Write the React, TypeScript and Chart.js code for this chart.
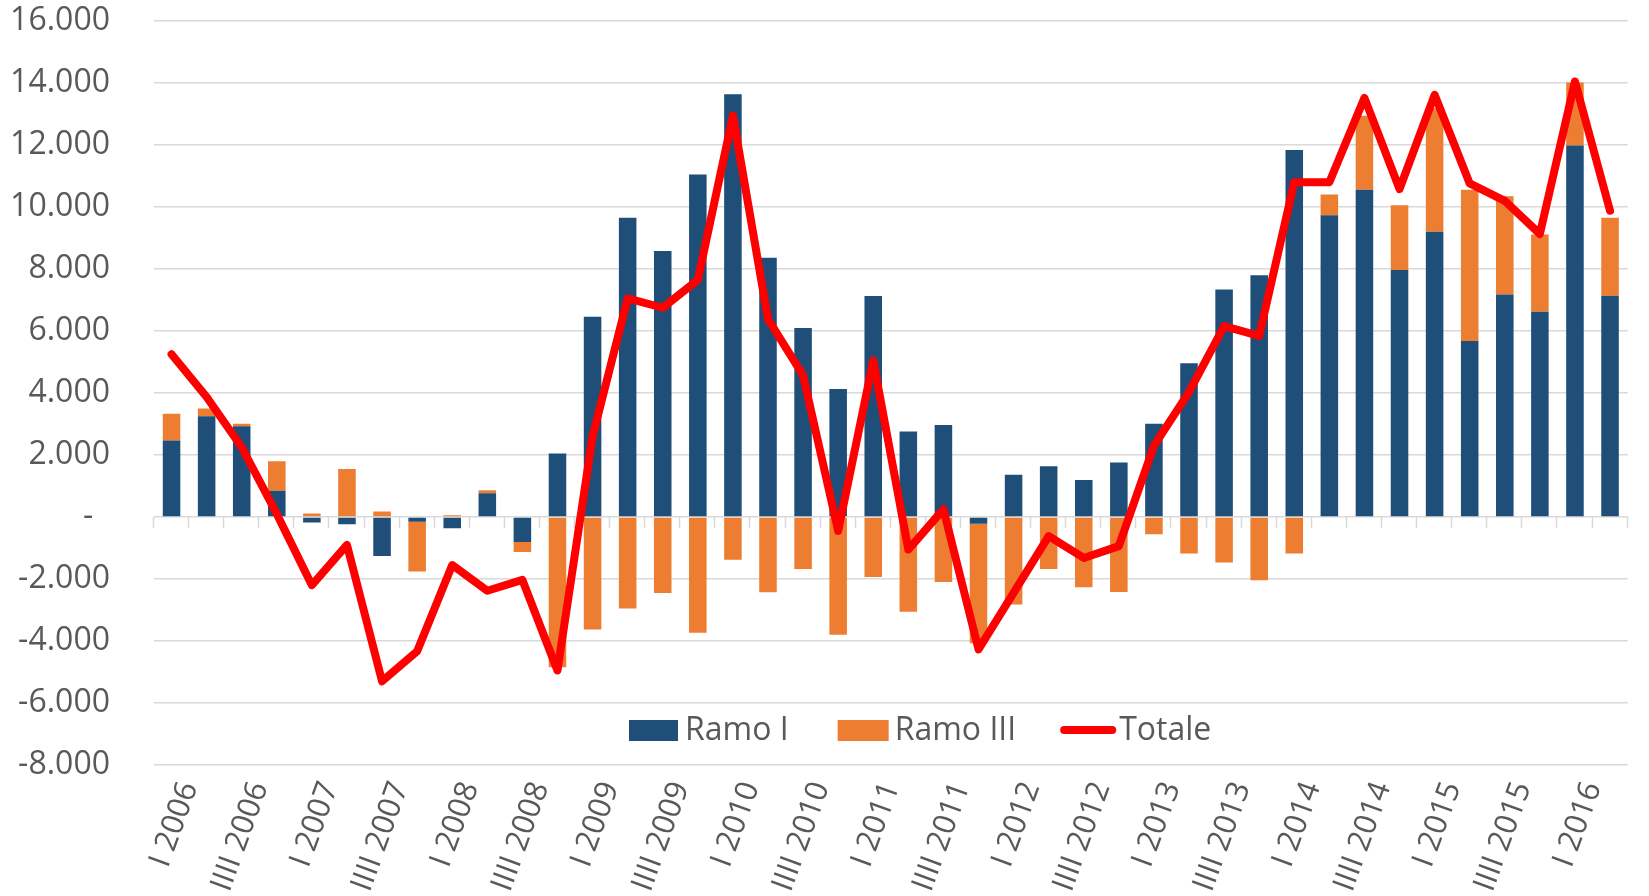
import React, { useEffect, useRef } from "react";
import { Chart, registerables } from "chart.js";

Chart.register(...registerables);

const categories = [
  "I 2006", "II 2006", "IIII 2006", "IV 2006",
  "I 2007", "II 2007", "IIII 2007", "IV 2007",
  "I 2008", "II 2008", "IIII 2008", "IV 2008",
  "I 2009", "II 2009", "IIII 2009", "IV 2009",
  "I 2010", "II 2010", "IIII 2010", "IV 2010",
  "I 2011", "II 2011", "IIII 2011", "IV 2011",
  "I 2012", "II 2012", "IIII 2012", "IV 2012",
  "I 2013", "II 2013", "IIII 2013", "IV 2013",
  "I 2014", "II 2014", "IIII 2014", "IV 2014",
  "I 2015", "II 2015", "IIII 2015", "IV 2015",
  "I 2016", "II 2016",
];

const ramoI = [
  2470, 3250, 2930, 850,
  -180, -230, -1260, -150,
  -360, 770, -810, 2050,
  6460, 9650, 8580, 11050,
  13640, 8360, 6100, 4130,
  7130, 2760, 2970, -215,
  1360, 1640, 1190, 1760,
  3005, 4960, 7340, 7800,
  11840, 9730, 10560, 7970,
  9200, 5680, 7180, 6620,
  11980, 7140,
];

const ramoIII = [
  860, 250, 80, 950,
  110, 1550, 180, -1610,
  60, 90, -320, -4850,
  -3630, -2950, -2450, -3730,
  -1380, -2430, -1680, -3800,
  -1935, -3060, -2100, -3860,
  -2820, -1680, -2270, -2420,
  -560, -1180, -1470, -2040,
  -1180, 670, 2380, 2090,
  3990, 4880, 3170, 2490,
  2040, 2510,
];

const totale = [
  5250, 3870, 2250, 100,
  -2200, -900, -5300, -4330,
  -1550, -2380, -2030, -4950,
  2600, 7050, 6750, 7650,
  12950, 6380, 4570, -450,
  5050, -1050, 250, -4270,
  -2450, -620, -1320, -940,
  2300, 4030, 6160, 5840,
  10800, 10800, 13520, 10580,
  13620, 10760, 10200, 9130,
  14050, 9880,
];

const yMin = -8000;
const yMax = 16000;
const yStep = 2000;

const BLUE = "#1F4E79";
const ORANGE = "#ED7D31";
const RED = "#FF0000";
const TEXT = "#595959";
const GRID = "#D9D9D9";
const FONT = "'Open Sans', 'Noto Sans', sans-serif";

function fmt(v: number): string {
  if (v === 0) return "-  ";
  const s = Math.abs(v).toString().replace(/\B(?=(\d{3})+(?!\d))/g, ".");
  return (v < 0 ? "-" : "") + s;
}

const zeroTicksPlugin = {
  id: "zeroTicks",
  beforeDatasetsDraw(chart: any) {
    const x = chart.scales.x;
    const y = chart.scales.y;
    const ctx = chart.ctx;
    const n = categories.length;
    const y0 = y.getPixelForValue(0);
    const w = (x.right - x.left) / n;
    ctx.save();
    ctx.strokeStyle = GRID;
    ctx.lineWidth = 1.5;
    for (let i = 0; i <= n; i++) {
      const px = Math.round(x.left + i * w) - 0.5;
      ctx.beginPath();
      ctx.moveTo(px, y0);
      ctx.lineTo(px, y0 + 11);
      ctx.stroke();
    }
    ctx.restore();
  },
};

const legendPlugin = {
  id: "customLegend",
  afterDraw(chart: any) {
    const ctx = chart.ctx;
    const area = chart.chartArea;
    const cy = area.bottom - 35;
    ctx.save();
    ctx.font = `32px ${FONT}`;
    ctx.textBaseline = "middle";
    ctx.fillStyle = TEXT;
    let x = 629;
    ctx.fillStyle = BLUE;
    ctx.fillRect(x, cy - 10, 49, 21);
    x += 56;
    ctx.fillStyle = TEXT;
    ctx.fillText("Ramo I", x, cy + 1);
    x += ctx.measureText("Ramo I").width + 49;
    ctx.fillStyle = ORANGE;
    ctx.fillRect(x, cy - 10, 51, 21);
    x += 57;
    ctx.fillStyle = TEXT;
    ctx.fillText("Ramo III", x, cy + 1);
    x += ctx.measureText("Ramo III").width + 44;
    ctx.strokeStyle = RED;
    ctx.lineWidth = 8;
    ctx.lineCap = "round";
    ctx.beginPath();
    ctx.moveTo(x + 4, cy);
    ctx.lineTo(x + 52, cy);
    ctx.stroke();
    x += 59;
    ctx.fillStyle = TEXT;
    ctx.fillText("Totale", x, cy + 1);
    ctx.restore();
  },
};

export default function App() {
  const ref = useRef<HTMLCanvasElement | null>(null);

  useEffect(() => {
    if (!ref.current) return;
    const chart = new Chart(ref.current, {
      type: "bar",
      data: {
        labels: categories,
        datasets: [
          {
            type: "line",
            label: "Totale",
            data: totale,
            borderColor: RED,
            backgroundColor: RED,
            borderWidth: 8,
            pointRadius: 0,
            pointHoverRadius: 0,
            tension: 0,
            fill: false,
            borderJoinStyle: "round",
            borderCapStyle: "round",
            stack: "line",
            order: 0,
          } as any,
          {
            type: "bar",
            label: "Ramo I",
            data: ramoI,
            backgroundColor: BLUE,
            stack: "bars",
            order: 1,
            barPercentage: 0.5,
            categoryPercentage: 1.0,
          },
          {
            type: "bar",
            label: "Ramo III",
            data: ramoIII,
            backgroundColor: ORANGE,
            stack: "bars",
            order: 1,
            barPercentage: 0.5,
            categoryPercentage: 1.0,
          },
        ],
      },
      options: {
        responsive: false,
        animation: false,
        layout: { padding: { top: 21, right: 0, left: 0, bottom: 0 } },
        plugins: {
          legend: { display: false },
          tooltip: { enabled: false },
        },
        scales: {
          x: {
            stacked: true,
            grid: { display: false },
            border: { display: false },
            ticks: {
              autoSkip: false,
              minRotation: 70,
              maxRotation: 70,
              padding: 4,
              labelOffset: 18,
              color: TEXT,
              font: { family: FONT, size: 31 },
              callback: (_v: any, i: number) => (i % 2 === 0 ? categories[i] : ""),
            },
            afterFit: (scale: any) => {
              scale.height = 131;
            },
          },
          y: {
            stacked: true,
            min: yMin,
            max: yMax,
            grid: { color: GRID, lineWidth: 1.5, drawTicks: true, tickLength: 44, tickColor: "rgba(0,0,0,0)" },
            border: { display: false },
            ticks: {
              stepSize: yStep,
              padding: 0,
              color: TEXT,
              font: { family: FONT, size: 32 },
              callback: (v: any) => fmt(Number(v)),
            },
            afterFit: (scale: any) => {
              scale.width = 154;
            },
          },
        },
      },
      plugins: [zeroTicksPlugin, legendPlugin],
    });
    return () => chart.destroy();
  }, []);

  return (
    <div style={{ position: "absolute", left: 0, top: 0, width: 1649, height: 896, background: "#fff" }}>
      <canvas ref={ref} width={1649} height={896} style={{ display: "block" }} />
    </div>
  );
}
